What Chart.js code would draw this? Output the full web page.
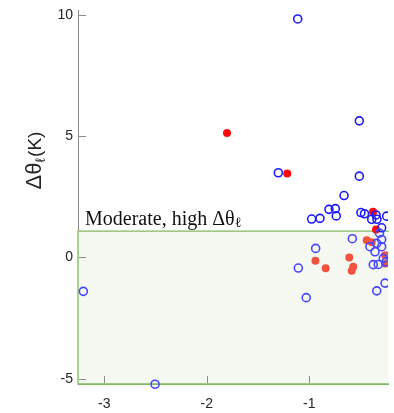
<!DOCTYPE html>
<html>
<head>
<meta charset="utf-8">
<script src="https://cdn.jsdelivr.net/npm/chart.js@4"></script>
<style>
    html, body { margin: 0; padding: 0; background: #fff; }
</style>
</head>
<body>
<canvas id="myChart" width="394" height="413"></canvas>
<script>
// open blue circles
var openX = [-1.113, -0.512, -1.302, -0.512, -0.661, -0.808, -0.746, -0.737, -0.977, -0.896,
    -0.496, -0.461, -0.349, -0.391, -0.340, -0.245, -0.294, -0.315,
    -3.205, -2.505, -0.580, -0.938, -1.107, -1.030, -0.408, -0.342, -0.294, -0.294,
    -0.359, -0.278, -0.376, -0.327, -0.261, -0.342, -0.252];
var openY = [9.83, 5.63, 3.49, 3.35, 2.55, 1.98, 2.01, 1.71, 1.58, 1.61,
    1.85, 1.80, 1.75, 1.57, 1.57, 1.70, 1.22, 1.00,
    -1.40, -5.23, 0.77, 0.37, -0.44, -1.66, 0.44, 0.58, 0.74, 0.44,
    0.23, -0.04, -0.30, -0.29, -1.06, -1.38, -0.19];

// filled red dots
var filledX = [-1.803, -1.215, -0.378, -0.349, -0.440, -0.391, -0.940, -0.840, -0.610, -0.571, -0.586, -0.261, -0.261];
var filledY = [5.13, 3.46, 1.88, 1.15, 0.71, 0.62, -0.14, -0.45, 0.00, -0.39, -0.55, 0.09, -0.25];

var xTicks = [-3, -2, -1];
var yTicks = [-5, 0, 5, 10];
var threshold = 1.08;
var regionLabel = "Moderate, high Δθ";

function toPoints(xs, ys) {
    return xs.map(function (v, i) { return { x: v, y: ys[i] }; });
}

// shaded region, inside ticks, labels
var plotDecor = {
    id: 'plotDecor',
    beforeDatasetsDraw: function (chart) {
        var ctx = chart.ctx, a = chart.chartArea;
        var x = chart.scales.x, y = chart.scales.y;
        var yt = y.getPixelForValue(threshold);
        ctx.save();
        ctx.fillStyle = '#f6f9f1';
        ctx.fillRect(a.left, yt, a.right - a.left, a.bottom - yt);
        ctx.strokeStyle = '#82b862';
        ctx.lineWidth = 1.3;
        ctx.beginPath();
        ctx.moveTo(a.right + 1, yt);
        ctx.lineTo(a.left, yt);
        ctx.lineTo(a.left, a.bottom);
        ctx.lineTo(a.right + 1, a.bottom);
        ctx.stroke();
        ctx.strokeStyle = '#8c8c8c';
        ctx.lineWidth = 1;
        ctx.beginPath();
        xTicks.forEach(function (v) {
            var px = Math.round(x.getPixelForValue(v)) + 0.5;
            ctx.moveTo(px, a.bottom - 1);
            ctx.lineTo(px, a.bottom - 8);
        });
        yTicks.forEach(function (v) {
            var py = Math.round(y.getPixelForValue(v)) + 0.5;
            ctx.moveTo(a.left + 1, py);
            ctx.lineTo(a.left + 8, py);
        });
        ctx.stroke();
        ctx.restore();
    },
    afterDraw: function (chart) {
        var ctx = chart.ctx, a = chart.chartArea;
        var y = chart.scales.y;
        var yt = y.getPixelForValue(threshold);
        ctx.save();
        // region label
        ctx.fillStyle = '#111';
        ctx.textBaseline = 'alphabetic';
        ctx.font = '20px "Liberation Serif"';
        var lx = a.left + 7, ly = yt - 6;
        ctx.fillText(regionLabel, lx, ly);
        var w = ctx.measureText(regionLabel).width;
        ctx.font = '14px "Liberation Serif"';
        ctx.fillText('ℓ', lx + w, ly + 2);

        // y axis title
        ctx.translate(41, 161);
        ctx.rotate(-Math.PI / 2);
        ctx.fillStyle = '#262626';
        ctx.font = '22px "Liberation Sans"';
        var w1 = ctx.measureText('Δθ').width;
        ctx.font = '14px "Liberation Sans"';
        var w2 = ctx.measureText('ℓ').width;
        ctx.font = '19px "Liberation Sans"';
        var w3 = ctx.measureText('(K)').width;
        var sx = -(w1 + w2 + w3) / 2;
        ctx.font = '22px "Liberation Sans"';
        ctx.fillText('Δθ', sx, 0);
        ctx.font = '14px "Liberation Sans"';
        ctx.fillText('ℓ', sx + w1, 4);
        ctx.font = '19px "Liberation Sans"';
        ctx.fillText('(K)', sx + w1 + w2 + 1, 0);
        ctx.restore();
    }
};

var ctx = document.getElementById('myChart').getContext('2d');
new Chart(ctx, {
    type: 'scatter',
    data: {
        datasets: [{
            label: 'open',
            data: toPoints(openX, openY),
            pointStyle: 'circle',
            pointRadius: 4,
            pointBorderWidth: 1.6,
            pointBackgroundColor: 'rgba(0,0,0,0)',
            pointBorderColor: function (c) {
                return c.raw && c.raw.y < threshold ? '#4646ff' : '#1a1aff';
            },
            clip: { left: 10, top: 10, bottom: 10, right: 0 }
        }, {
            label: 'filled',
            data: toPoints(filledX, filledY),
            pointStyle: 'circle',
            pointRadius: 4,
            pointBorderWidth: 0,
            pointBackgroundColor: function (c) {
                return c.raw && c.raw.y < threshold ? '#f2533f' : '#ff0a0a';
            },
            clip: { left: 10, top: 10, bottom: 10, right: 0 }
        }]
    },
    options: {
        responsive: false,
        animation: false,
        devicePixelRatio: 1,
        layout: { padding: { top: 10, right: 6, left: 0, bottom: 0 } },
        plugins: { legend: { display: false }, tooltip: { enabled: false } },
        scales: {
            x: {
                type: 'linear',
                min: -3.257,
                max: -0.232,
                afterBuildTicks: function (s) { s.ticks = xTicks.map(function (v) { return { value: v }; }); },
                afterFit: function (s) { s.height = 29; s.paddingLeft = 0; s.paddingRight = 0; },
                grid: { display: false, drawTicks: false },
                border: { display: true, color: '#82b862', width: 1 },
                ticks: { padding: 12, color: '#262626', font: { family: 'Liberation Sans', size: 14 } }
            },
            y: {
                type: 'linear',
                min: -5.22,
                max: 10.2,
                afterBuildTicks: function (s) { s.ticks = yTicks.map(function (v) { return { value: v }; }); },
                afterFit: function (s) { s.width = 78; s.paddingTop = 0; s.paddingBottom = 0; },
                grid: { display: false, drawTicks: false },
                border: { display: true, color: '#8c8c8c', width: 1 },
                ticks: { padding: 5, color: '#262626', font: { family: 'Liberation Sans', size: 14 } }
            }
        }
    },
    plugins: [plotDecor]
});
</script>
</body>
</html>
